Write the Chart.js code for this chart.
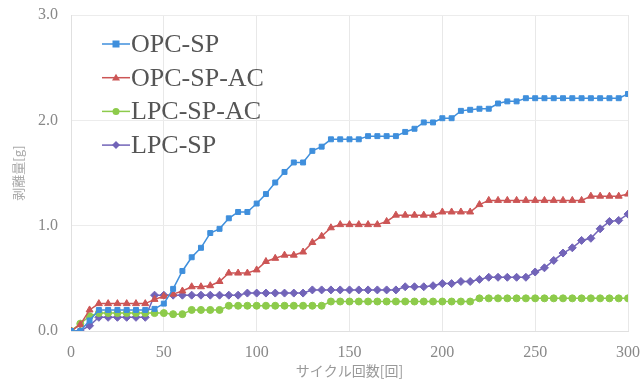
<!DOCTYPE html>
<html lang="ja">
<head>
    <meta charset="UTF-8">
    <title>剥離量グラフ</title>
    <script src="https://cdn.jsdelivr.net/npm/chart.js"></script>
    <style>
        html, body { margin: 0; padding: 0; background: #fff; }
        #wrap { width: 644px; height: 383px; }
    </style>
</head>
<body>
    <div id="wrap"><canvas id="chart" width="644" height="383"></canvas></div>
    <script>
        // サイクル回数 (5回ごと)
        var cycles = [0, 5, 10, 15, 20, 25, 30, 35, 40, 45,
            50, 55, 60, 65, 70, 75, 80, 85, 90, 95,
            100, 105, 110, 115, 120, 125, 130, 135, 140, 145,
            150, 155, 160, 165, 170, 175, 180, 185, 190, 195,
            200, 205, 210, 215, 220, 225, 230, 235, 240, 245,
            250, 255, 260, 265, 270, 275, 280, 285, 290, 295, 300];

        var seriesNames = ['OPC-SP', 'OPC-SP-AC', 'LPC-SP-AC', 'LPC-SP'];

        // 剥離量 [g]
        var opcSp = [0, 0, 0.1, 0.2, 0.2, 0.2, 0.2, 0.2, 0.2, 0.21,
            0.26, 0.4, 0.57, 0.7, 0.79, 0.93, 0.97, 1.07, 1.13, 1.13,
            1.21, 1.3, 1.41, 1.51, 1.6, 1.6, 1.71, 1.75, 1.82, 1.82,
            1.82, 1.82, 1.85, 1.85, 1.85, 1.85, 1.89, 1.92, 1.98, 1.98,
            2.02, 2.02, 2.09, 2.1, 2.11, 2.11, 2.16, 2.18, 2.18, 2.21,
            2.21, 2.21, 2.21, 2.21, 2.21, 2.21, 2.21, 2.21, 2.21, 2.21, 2.25];
        var opcSpAc = [0, 0.06, 0.2, 0.26, 0.26, 0.26, 0.26, 0.26, 0.26, 0.3,
            0.33, 0.35, 0.38, 0.42, 0.42, 0.43, 0.47, 0.55, 0.55, 0.55,
            0.58, 0.66, 0.69, 0.72, 0.72, 0.75, 0.84, 0.9, 0.98, 1.01,
            1.01, 1.01, 1.01, 1.01, 1.04, 1.1, 1.1, 1.1, 1.1, 1.1,
            1.13, 1.13, 1.13, 1.13, 1.2, 1.24, 1.24, 1.24, 1.24, 1.24,
            1.24, 1.24, 1.24, 1.24, 1.24, 1.24, 1.28, 1.28, 1.28, 1.28, 1.3];
        var lpcSpAc = [0, 0.07, 0.14, 0.17, 0.17, 0.17, 0.17, 0.17, 0.17, 0.17,
            0.17, 0.16, 0.16, 0.2, 0.2, 0.2, 0.2, 0.24, 0.24, 0.24,
            0.24, 0.24, 0.24, 0.24, 0.24, 0.24, 0.24, 0.24, 0.28, 0.28,
            0.28, 0.28, 0.28, 0.28, 0.28, 0.28, 0.28, 0.28, 0.28, 0.28,
            0.28, 0.28, 0.28, 0.28, 0.31, 0.31, 0.31, 0.31, 0.31, 0.31,
            0.31, 0.31, 0.31, 0.31, 0.31, 0.31, 0.31, 0.31, 0.31, 0.31, 0.31];
        var lpcSp = [0, 0, 0.05, 0.13, 0.13, 0.13, 0.13, 0.13, 0.13, 0.34,
            0.34, 0.34, 0.34, 0.34, 0.34, 0.34, 0.34, 0.34, 0.34, 0.36,
            0.36, 0.36, 0.36, 0.36, 0.36, 0.36, 0.39, 0.39, 0.39, 0.39,
            0.39, 0.39, 0.39, 0.39, 0.39, 0.39, 0.42, 0.42, 0.42, 0.43,
            0.45, 0.45, 0.47, 0.47, 0.49, 0.51, 0.51, 0.51, 0.51, 0.51,
            0.56, 0.6, 0.67, 0.74, 0.79, 0.86, 0.88, 0.97, 1.04, 1.05, 1.11];

        var xTicks = [0, 50, 100, 150, 200, 250, 300];
        var yTicks = [0, 1, 2, 3];

        var colors = ['#3f8fdc', '#cc5555', '#8dcb4b', '#7264b8'];
        var markers = ['rect', 'triangle', 'circle', 'rectRot'];
        var sizes = [3.5, 4, 3.5, 4];

        function toPoints(vals) {
            return vals.map(function (v, i) { return { x: cycles[i], y: v }; });
        }

        var allSeries = [opcSp, opcSpAc, lpcSpAc, lpcSp];
        var datasets = allSeries.map(function (vals, i) {
            return {
                label: seriesNames[i],
                data: toPoints(vals),
                borderColor: colors[i],
                backgroundColor: colors[i],
                borderWidth: 1.5,
                pointStyle: markers[i],
                pointRadius: sizes[i],
                pointBorderWidth: 1,
                tension: 0
            };
        });

        // 凡例をグラフ内に描く (線 + マーカー)
        var insideLegend = {
            id: 'insideLegend',
            afterDraw: function (chart) {
                var ctx = chart.ctx;
                ctx.save();
                chart.data.datasets.forEach(function (ds, i) {
                    var y = 44 + i * 33.7;
                    ctx.strokeStyle = ds.borderColor;
                    ctx.lineWidth = 1.5;
                    ctx.beginPath();
                    ctx.moveTo(102, y);
                    ctx.lineTo(130, y);
                    ctx.stroke();
                    ctx.fillStyle = ds.backgroundColor;
                    var r = ds.pointRadius;
                    ctx.beginPath();
                    if (ds.pointStyle === 'rect') {
                        ctx.rect(116 - r, y - r, r * 2, r * 2);
                    } else if (ds.pointStyle === 'triangle') {
                        ctx.moveTo(116, y - r);
                        ctx.lineTo(116 + r, y + r * 0.7);
                        ctx.lineTo(116 - r, y + r * 0.7);
                        ctx.closePath();
                    } else if (ds.pointStyle === 'rectRot') {
                        ctx.moveTo(116, y - r);
                        ctx.lineTo(116 + r, y);
                        ctx.lineTo(116, y + r);
                        ctx.lineTo(116 - r, y);
                        ctx.closePath();
                    } else {
                        ctx.arc(116, y, r, 0, Math.PI * 2);
                    }
                    ctx.fill();
                    ctx.fillStyle = '#555';
                    ctx.font = '26px "Liberation Serif", serif';
                    ctx.textBaseline = 'middle';
                    ctx.textAlign = 'left';
                    ctx.fillText(ds.label, 131, y + 1);
                });
                ctx.restore();
            }
        };

        var ctx = document.getElementById('chart').getContext('2d');
        new Chart(ctx, {
            type: 'line',
            data: { datasets: datasets },
            options: {
                responsive: false,
                animation: false,
                layout: { padding: { top: 15, right: 16, left: 10, bottom: 0 } },
                plugins: {
                    legend: { display: false },
                    tooltip: { enabled: false }
                },
                scales: {
                    x: {
                        type: 'linear',
                        min: 0,
                        max: 300,
                        afterBuildTicks: function (axis) {
                            axis.ticks = xTicks.map(function (v) { return { value: v }; });
                        },
                        afterFit: function (axis) {
                            axis.height = 52;
                            axis.paddingLeft = 0;
                            axis.paddingRight = 0;
                        },
                        grid: { color: '#e8e8e8', drawTicks: false },
                        border: { color: '#e0e0e0' },
                        ticks: {
                            color: '#888',
                            padding: 12,
                            font: { family: '"Liberation Serif", serif', size: 16 }
                        },
                        title: {
                            display: true,
                            text: 'サイクル回数[回]',
                            color: '#999',
                            padding: { top: 0 },
                            font: { family: '"Noto Sans CJK JP"', size: 14 }
                        }
                    },
                    y: {
                        min: 0,
                        max: 3,
                        afterBuildTicks: function (axis) {
                            axis.ticks = yTicks.map(function (v) { return { value: v }; });
                        },
                        afterFit: function (axis) {
                            axis.width = 61;
                            axis.paddingTop = 0;
                            axis.paddingBottom = 0;
                        },
                        grid: { color: '#ececec', drawTicks: false },
                        border: { color: '#e0e0e0' },
                        ticks: {
                            color: '#888',
                            padding: 13,
                            font: { family: '"Liberation Serif", serif', size: 16 },
                            callback: function (v) { return v.toFixed(1); }
                        },
                        title: {
                            display: true,
                            text: '剥離量[g]',
                            color: '#aaa',
                            padding: 0,
                            font: { family: '"Noto Sans CJK JP"', size: 13 }
                        }
                    }
                }
            },
            plugins: [insideLegend]
        });
    </script>
</body>
</html>
